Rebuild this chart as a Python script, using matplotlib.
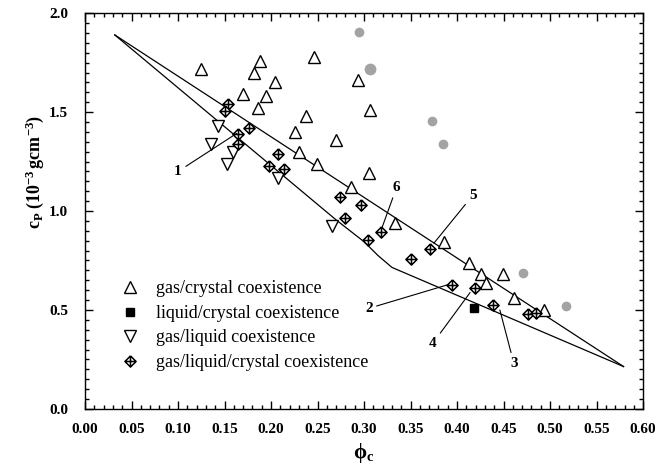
import matplotlib
matplotlib.use('Agg')
import matplotlib.pyplot as plt
from matplotlib.path import Path
from matplotlib.ticker import MultipleLocator, FormatStrFormatter

plt.rcParams['font.family'] = ['Liberation Serif', 'DejaVu Serif']
plt.rcParams['mathtext.fontset'] = 'custom'
plt.rcParams['mathtext.rm'] = 'Liberation Serif'
plt.rcParams['mathtext.it'] = 'Liberation Serif:italic'
plt.rcParams['mathtext.bf'] = 'Liberation Serif:bold'

# gas/crystal coexistence (open up triangles)
gc_phi = [0.125, 0.188, 0.182, 0.246, 0.204, 0.170, 0.195, 0.186, 0.293, 0.238,
          0.226, 0.270, 0.230, 0.249, 0.286, 0.306, 0.305, 0.333, 0.386, 0.413,
          0.426, 0.449, 0.431, 0.461, 0.493]
gc_cp = [1.72, 1.76, 1.70, 1.78, 1.65, 1.59, 1.58, 1.52, 1.66, 1.48,
         1.40, 1.36, 1.30, 1.24, 1.12, 1.51, 1.19, 0.938, 0.845, 0.739,
         0.680, 0.680, 0.635, 0.562, 0.50]

# liquid/crystal coexistence (filled square)
lc_phi = [0.418]
lc_cp = [0.508]

# gas/liquid coexistence (open down triangles)
gl_phi = [0.143, 0.135, 0.159, 0.153, 0.207, 0.266]
gl_cp = [1.43, 1.34, 1.30, 1.24, 1.165, 0.924]

# gas/liquid/crystal coexistence (crossed diamonds)
glc_phi = [0.154, 0.150, 0.176, 0.164, 0.164, 0.208, 0.198, 0.214, 0.274, 0.297,
           0.279, 0.304, 0.318, 0.350, 0.371, 0.395, 0.419, 0.439, 0.476, 0.485]
glc_cp = [1.54, 1.505, 1.42, 1.39, 1.34, 1.29, 1.23, 1.21, 1.07, 1.03,
          0.965, 0.855, 0.892, 0.758, 0.806, 0.626, 0.609, 0.525, 0.478, 0.483]

# grey points
grey_phi = [0.295, 0.306, 0.373, 0.385, 0.471, 0.517]
grey_cp = [1.905, 1.72, 1.455, 1.337, 0.689, 0.520]
grey_size = [7, 8.5, 7, 7, 7, 7]

# boundary lines
upper_phi = [0.032, 0.579]
upper_cp = [1.89, 0.214]
lower_phi = [0.032, 0.270, 0.300, 0.315, 0.330, 0.579]
lower_cp = [1.89, 0.955, 0.845, 0.775, 0.715, 0.214]

# numbered annotations: label, target point, label position
ann_labels = ['1', '2', '3', '4', '5', '6']
ann_target = [(0.163, 1.392), (0.389, 0.626), (0.446, 0.50),
              (0.414, 0.588), (0.375, 0.837), (0.319, 0.912)]
ann_text = [(0.100, 1.20), (0.305, 0.508), (0.461, 0.231),
            (0.374, 0.332), (0.417, 1.08), (0.335, 1.12)]

legend_labels = ['gas/crystal coexistence', 'liquid/crystal coexistence',
                 'gas/liquid coexistence', 'gas/liquid/crystal coexistence']

# diamond with a cross inside
crossed_diamond = Path(
    [(0, 1), (1, 0), (0, -1), (-1, 0), (0, 1), (0, 1), (0, -1), (-1, 0), (1, 0)],
    [Path.MOVETO, Path.LINETO, Path.LINETO, Path.LINETO, Path.LINETO,
     Path.MOVETO, Path.LINETO, Path.MOVETO, Path.LINETO])

fig = plt.figure(figsize=(6.72, 4.70), dpi=100)
ax = fig.add_axes([0.1265, 0.130, 0.8305, 0.842])

ax.plot(upper_phi, upper_cp, color='black', lw=0.9)
ax.plot(lower_phi, lower_cp, color='black', lw=0.9)

for x, y, s in zip(grey_phi, grey_cp, grey_size):
    ax.plot(x, y, 'o', color='#a3a3a3', ms=s, mec='none')

h1, = ax.plot(gc_phi, gc_cp, '^', ms=8, mfc='white', mec='black', mew=1.0, ls='none')
h2, = ax.plot(lc_phi, lc_cp, 's', ms=5.5, color='black', ls='none')
h3, = ax.plot(gl_phi, gl_cp, 'v', ms=8, mfc='white', mec='black', mew=1.0, ls='none')
h4, = ax.plot(glc_phi, glc_cp, marker=crossed_diamond, ms=8, mfc='white', mec='black',
              mew=1.1, ls='none')

for lab, tgt, pos in zip(ann_labels, ann_target, ann_text):
    ax.annotate(lab, xy=tgt, xytext=pos, ha='center', va='center',
                fontsize=11, fontweight='bold',
                arrowprops=dict(arrowstyle='-', color='black', lw=0.8,
                                shrinkA=1, shrinkB=0))

ax.legend([h1, h2, h3, h4], legend_labels, loc='upper left',
          bbox_to_anchor=(0.066, 0.325), frameon=False, fontsize=13,
          handlelength=0.9, handletextpad=1.0, labelspacing=0.42,
          borderpad=0, borderaxespad=0)

ax.set_xlim(0, 0.60)
ax.set_ylim(0, 2.0)
ax.xaxis.set_major_locator(MultipleLocator(0.05))
ax.xaxis.set_minor_locator(MultipleLocator(0.01))
ax.yaxis.set_major_locator(MultipleLocator(0.5))
ax.yaxis.set_minor_locator(MultipleLocator(0.05))
ax.xaxis.set_major_formatter(FormatStrFormatter('%.2f'))
ax.yaxis.set_major_formatter(FormatStrFormatter('%.1f'))
ax.tick_params(which='both', direction='in', top=True, right=True, width=1.0)
ax.tick_params(which='major', length=6, labelsize=11)
ax.tick_params(which='minor', length=3)
ax.tick_params(axis='x', which='major', pad=10)
ax.tick_params(axis='y', which='major', pad=12)
for lbl in ax.get_xticklabels() + ax.get_yticklabels():
    lbl.set_fontweight('bold')
for sp in ax.spines.values():
    sp.set_linewidth(1.0)

ax.set_xlabel(r'$\mathbf{\phi_c}$', fontsize=15, labelpad=4)
ax.set_ylabel(r'$\mathbf{c_P\ (10^{-3}\,gcm^{-3})}$', fontsize=13)
ax.yaxis.set_label_coords(-0.070, 0.60)

fig.savefig('out.png', dpi=100)
